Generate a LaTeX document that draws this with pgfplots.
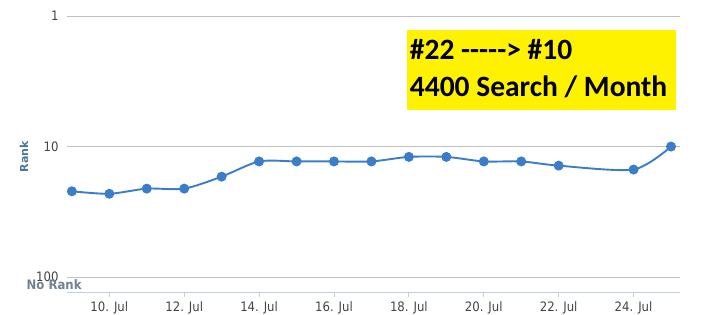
\documentclass[border=0pt]{standalone}
\usepackage{pgfplots}
\pgfplotsset{compat=1.18}
\usepackage{fontspec}
\setmainfont{DejaVu Sans}
\newfontfamily\tickfont{DejaVu Sans Condensed}
\newfontfamily\boxfont{Carlito}
\definecolor{linec}{HTML}{3A7DC9}
\definecolor{gridc}{HTML}{C0C0C0}
\definecolor{axisc}{HTML}{C0D0E0}
\definecolor{rankc}{HTML}{4D759E}
\definecolor{norankc}{HTML}{6E8294}
\definecolor{tickc}{HTML}{444444}
\definecolor{boxc}{HTML}{FFF200}
\begin{document}
\begin{tikzpicture}[x=1pt,y=1pt]
\useasboundingbox (-67,-23) rectangle (640,292);
\begin{axis}[
  at={(0,0)}, anchor=south west,
  scale only axis, width=613pt, height=276pt,
  xmin=8.87, xmax=25.24,
  ymode=log, y dir=reverse, ymin=1, ymax=130,
  ytick={1,10,100}, yticklabels={1,10,100},
  xtick={10,12,14,16,18,20,22,24},
  xticklabels={10. Jul,12. Jul,14. Jul,16. Jul,18. Jul,20. Jul,22. Jul,24. Jul},
  ymajorgrids, major grid style={gridc, line width=0.8pt},
  axis x line*=bottom, axis y line*=left,
  x axis line style={axisc, line width=0.8pt, -},
  y axis line style={draw=none},
  xtick style={axisc, line width=0.8pt},
  ytick style={draw=none},
  major tick length=5pt, tick align=outside,
  xtick pos=bottom,
  yminorticks=false, minor ytick={},
  xticklabel style={font=\tickfont\fontsize{13}{15}\selectfont, text=tickc, yshift=-1pt},
  yticklabel style={font=\tickfont\fontsize{13}{15}\selectfont, text=tickc, xshift=0pt},
  clip=false,
]
\addplot[linec, line width=1.9pt, smooth, tension=0.45, mark=*, mark size=4pt, mark options={fill=linec, draw=linec}] coordinates {
(9,22) (10,23) (11,21) (12,21) (13,17) (14,13) (15,13) (16,13) (17,13) (18,12) (19,12) (20,13) (21,13) (22,14) (24,15) (25,10)
};
\fill[boxc] (rel axis cs:0.555,0.949) rectangle (rel axis cs:0.993,0.659);
\node[anchor=base west, inner sep=0, font=\boxfont\bfseries\fontsize{29.5}{34}\selectfont] at (rel axis cs:0.559,0.844) {\#22 -----> \#10};
\node[anchor=base west, inner sep=0, font=\boxfont\bfseries\fontsize{29.5}{34}\selectfont] at (rel axis cs:0.559,0.709) {4400 Search / Month};
\node[anchor=center, inner sep=0, font=\tickfont\bfseries\fontsize{13}{15}\selectfont, text=norankc] at (rel axis cs:-0.021,0.028) {No Rank};
\node[anchor=center, inner sep=0, rotate=90, font=\bfseries\fontsize{11}{13}\selectfont, text=rankc] at (rel axis cs:-0.070,0.49) {Rank};
\end{axis}
\end{tikzpicture}
\end{document}
